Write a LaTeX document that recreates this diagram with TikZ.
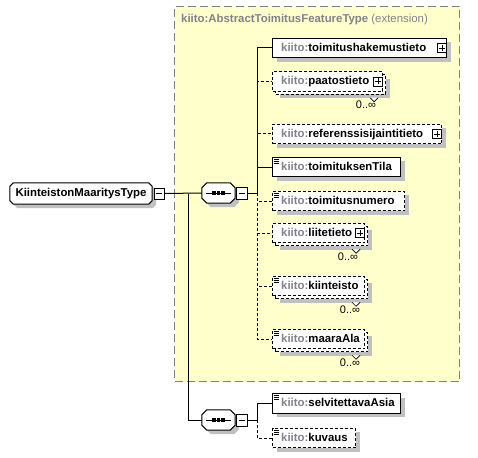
\documentclass[tikz,border=0pt]{standalone}
\usepackage{fontspec}
\setmainfont{Liberation Sans}
\usetikzlibrary{shadows}
\definecolor{ybg}{RGB}{255,255,204}
\definecolor{nsgray}{RGB}{130,130,140}
\definecolor{shd}{RGB}{192,192,192}
\definecolor{bordgray}{RGB}{128,128,128}
\newcommand\kname[1]{{\color{nsgray}kiito:}#1}
\tikzset{
  nmfont/.style={font=\fontsize{11.4}{14}\selectfont\bfseries},
  box/.style={draw=black, fill=white, line width=1pt, minimum height=19.5pt, inner sep=0pt, anchor=west},
  shad/.style={drop shadow={shadow xshift=4pt, shadow yshift=-4pt, fill=shd, opacity=1}},
  optl/.style={dash pattern=on 3pt off 2pt},
  lbl/.style={nmfont, anchor=west, inner sep=0pt, text height=8.6pt, text depth=2.3pt},
  pbox/.style={draw=black, fill=white, line width=0.8pt, minimum width=9pt, minimum height=9pt, inner sep=0pt},
  mbox/.style={draw=black, fill=white, line width=0.8pt, minimum width=11pt, minimum height=12pt, inner sep=0pt},
  comp/.style={rectangle, minimum width=33pt, minimum height=20pt, inner sep=0pt},
  octline/.style={draw=black, fill=white, line width=1pt},
  conn/.style={line width=1pt},
  mult/.style={font=\fontsize{11}{13}\selectfont, inner sep=0pt},
  extbox/.style={draw=bordgray, fill=ybg, line width=1pt, dash pattern=on 8pt off 4pt, inner sep=0pt},
}
% octagon around node #1, chamfer #2, offset #3 (x and y, pt)
\newcommand\octpath[3]{%
  ([xshift=#2pt+#3pt,yshift=-#3pt]#1.north west) -- ([xshift=-#2pt+#3pt,yshift=-#3pt]#1.north east) --
  ([xshift=#3pt,yshift=-#2pt-#3pt]#1.north east) -- ([xshift=#3pt,yshift=#2pt-#3pt]#1.south east) --
  ([xshift=-#2pt+#3pt,yshift=-#3pt]#1.south east) -- ([xshift=#2pt+#3pt,yshift=-#3pt]#1.south west) --
  ([xshift=#3pt,yshift=#2pt-#3pt]#1.south west) -- ([xshift=#3pt,yshift=-#2pt-#3pt]#1.north west) -- cycle}
\newcommand\octo[2]{%
  \fill[shd] \octpath{#1}{#2}{4};
  \path[octline] \octpath{#1}{#2}{0};}
\newcommand\iconat[1]{%
  \foreach \d in {2.5,4.5,6.5} \draw[line width=0.7pt] ([xshift=1.5pt,yshift=-\d pt]#1.north west) -- ++(5,0);}
\newcommand\plusat[1]{%
  \node[pbox, anchor=east] (#1p) at (#1.east) {};
  \draw[line width=0.8pt] ([xshift=-3pt]#1p.center) -- ([xshift=3pt]#1p.center);
  \draw[line width=0.8pt] ([yshift=-3pt]#1p.center) -- ([yshift=3pt]#1p.center);}
\newcommand\minusat[1]{%
  \draw[line width=0.8pt] ([xshift=-3pt]#1.center) -- ([xshift=3pt]#1.center);}
\newcommand\seqdots[1]{%
  \draw[line width=1pt] ([xshift=4pt]#1.west) -- ([xshift=-4pt]#1.east);
  \foreach \dx in {-4.5,0,4.5} \fill ([xshift=\dx pt]#1.center) +(-1.6,-1.6) rectangle +(1.6,1.6);}
\newcommand\notch[1]{%
  \draw[line width=0.7pt, fill=white] ([xshift=-16pt,yshift=-3pt]#1.south east) -- ++(4,4) -- ++(4,-4);}
\begin{document}
\begin{tikzpicture}[x=1pt,y=-1pt]
\useasboundingbox (0,0) rectangle (478,457);
% extension area
\node[extbox, minimum width=285pt, minimum height=375pt, anchor=north west] (ext) at (174,6) {};
\node[lbl, text=nsgray] (extt) at (181,19) {kiito:AbstractToimitusFeatureType \mdseries(extension)};

% root
\node[comp, minimum width=142pt, minimum height=21pt] (root) at (81,193.5) {};
\octo{root}{3.5}
\node[nmfont, inner sep=0pt] (roott) at (root.center) {KiinteistonMaaritysType};
\node[mbox, minimum width=10pt, minimum height=11pt] (rootm) at (159,193.5) {};
\minusat{rootm}

% sequence 1
\node[comp] (s1) at (218.5,193) {};
\octo{s1}{5}
\seqdots{s1}
\node[mbox, anchor=west] (s1m) at ([xshift=1pt]s1.east) {};
\minusat{s1m}
\coordinate (v1) at (257,193);
\coordinate (j0) at (188,193.5);

% sequence 2
\node[comp] (s2) at (218.5,420) {};
\octo{s2}{5}
\seqdots{s2}
\node[mbox, anchor=west] (s2m) at ([xshift=1pt]s2.east) {};
\minusat{s2m}
\coordinate (v2) at (257,420);

% children of sequence 1
\node[box, shad, minimum width=174pt] (n1) at (272,48) {};
\node[lbl] (n1t) at (281,48) {\kname{toimitushakemustieto}};
\plusat{n1}

\node[box, shad, optl, minimum width=110pt] (n2b) at (275,84.5) {};
\node[box, optl, minimum width=110pt] (n2) at (272,81.5) {};
\notch{n2b}
\node[lbl] (n2t) at (281,81.5) {\kname{paatostieto}};
\plusat{n2}
\node[mult] (n2m) at (366,105) {0..∞};

\node[box, shad, optl, minimum width=169pt] (n3) at (272,134) {};
\node[lbl] (n3t) at (281,134) {\kname{referenssisijaintitieto}};
\plusat{n3}

\node[box, shad, minimum width=128pt] (n4) at (272,167) {};
\iconat{n4}
\node[lbl] (n4t) at (281,167) {\kname{toimituksenTila}};

\node[box, shad, optl, minimum width=132pt] (n5) at (272,201) {};
\iconat{n5}
\node[lbl] (n5t) at (281,201) {\kname{toimitusnumero}};

\node[box, shad, optl, minimum width=92pt] (n6b) at (275,236) {};
\node[box, optl, minimum width=92pt] (n6) at (272,233) {};
\notch{n6b}
\node[lbl] (n6t) at (281,233) {\kname{liitetieto}};
\plusat{n6}
\node[mult] (n6m) at (348,257) {0..∞};

\node[box, shad, optl, minimum width=92pt] (n7b) at (275,289) {};
\node[box, optl, minimum width=92pt] (n7) at (272,286) {};
\notch{n7b}
\iconat{n7}
\node[lbl] (n7t) at (281,286) {\kname{kiinteisto}};
\node[mult] (n7m) at (350,310) {0..∞};

\node[box, shad, optl, minimum width=92pt] (n8b) at (275,342) {};
\node[box, optl, minimum width=92pt] (n8) at (272,339) {};
\notch{n8b}
\iconat{n8}
\node[lbl] (n8t) at (281,339) {\kname{maaraAla}};
\node[mult] (n8m) at (350,363) {0..∞};

% children of sequence 2
\node[box, shad, minimum width=128pt] (sel) at (272,403.5) {};
\iconat{sel}
\node[lbl] (selt) at (281,403.5) {\kname{selvitettavaAsia}};

\node[box, shad, optl, minimum width=83pt] (kuv) at (272,438) {};
\iconat{kuv}
\node[lbl] (kuvt) at (281,438) {\kname{kuvaus}};

% connectors
\draw[conn] (rootm.east) -- (s1.west);
\draw[conn] (j0) |- (s2.west);
\draw[conn] (s1m.east) -- (v1);
\draw[conn] (v1) |- (n1.west);
\draw[conn] (v1) |- (n4.west);
\draw[conn, optl] (v1) |- (n2.west);
\draw[conn, optl] (v1) |- (n3.west);
\draw[conn, optl] (v1) |- (n5.west);
\draw[conn, optl] (v1) |- (n6.west);
\draw[conn, optl] (v1) |- (n7.west);
\draw[conn, optl] (v1) |- (n8.west);
\draw[conn] (s2m.east) -- (v2);
\draw[conn] (v2) |- (sel.west);
\draw[conn, optl] (v2) |- (kuv.west);
\end{tikzpicture}
\end{document}
